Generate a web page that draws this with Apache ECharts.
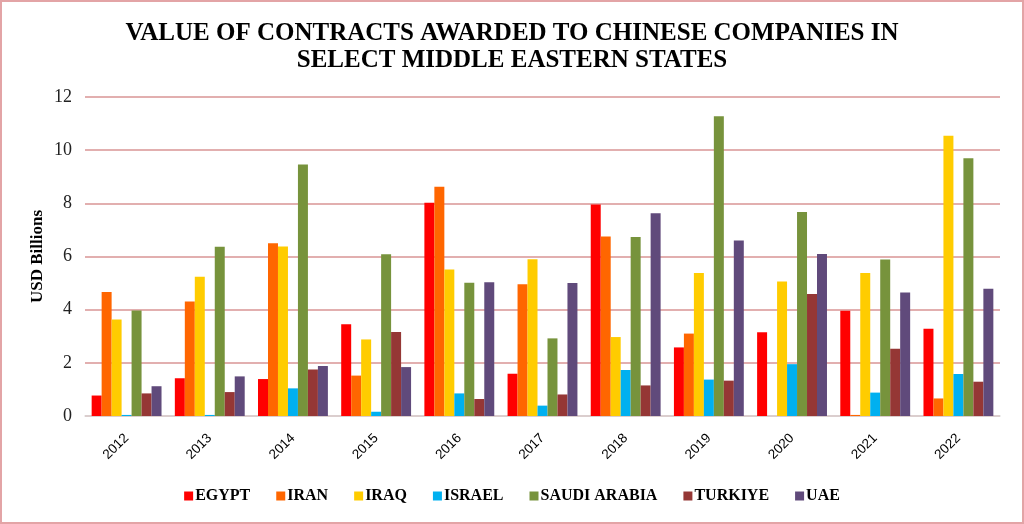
<!DOCTYPE html>
<html><head><meta charset="utf-8">
<script src="https://cdn.jsdelivr.net/npm/echarts@6/dist/echarts.min.js"></script>
<style>html,body{margin:0;padding:0;background:#fff}#c{width:1024px;height:524px}</style>
</head><body><div id="c"></div>
<script>
const years = ['2012','2013','2014','2015','2016','2017','2018','2019','2020','2021','2022'];
const egypt   = [0.77,1.42,1.39,3.45,8.02,1.59,7.96,2.58,3.15,3.96,3.28];
const iran    = [4.66,4.31,6.50,1.52,8.62,4.96,6.75,3.10,0.00,0.04,0.66];
const iraq    = [3.63,5.24,6.38,2.88,5.51,5.90,2.97,5.38,5.06,5.38,10.54];
const israel  = [0.04,0.04,1.04,0.16,0.85,0.39,1.73,1.37,1.95,0.88,1.58];
const saudi   = [3.97,6.37,9.46,6.08,5.01,2.92,6.73,11.28,7.67,5.89,9.70];
const turkiye = [0.85,0.90,1.75,3.16,0.64,0.81,1.15,1.33,4.59,2.53,1.29];
const uae     = [1.12,1.49,1.88,1.84,5.03,5.00,7.63,6.60,6.09,4.65,4.79];
const yTicks = [0,2,4,6,8,10,12];

const seriesDefs = [
  ['EGYPT', egypt, '#FF0000'],
  ['IRAN', iran, '#FF6600'],
  ['IRAQ', iraq, '#FFCC00'],
  ['ISRAEL', israel, '#00B0F0'],
  ['SAUDI ARABIA', saudi, '#77933C'],
  ['TURKIYE', turkiye, '#953735'],
  ['UAE', uae, '#604A7B']
];
const chart = echarts.init(document.getElementById('c'), null, {renderer:'canvas'});
chart.setOption({
  animation:false,
  graphic:[{type:'rect', shape:{x:1, y:1, width:1022, height:522}, style:{fill:null, stroke:'#e3a4a6', lineWidth:2}, silent:true, z:-1}],
  title:{
    text:'VALUE OF CONTRACTS AWARDED TO CHINESE COMPANIES IN\nSELECT MIDDLE EASTERN STATES',
    left:'center', top:15,
    textStyle:{fontFamily:'Liberation Serif', fontWeight:'bold', fontSize:25, lineHeight:27, color:'#000'}
  },
  legend:{
    top:483, left:'center', itemWidth:9, itemHeight:9, itemGap:26, icon:'rect',
    textStyle:{fontFamily:'Liberation Serif', fontWeight:'bold', fontSize:16, color:'#000', padding:[0,0,0,-3]},
    data: seriesDefs.map(s=>s[0])
  },
  grid:{left:85, right:24, top:97, bottom:108},
  xAxis:{
    type:'category', data:years,
    axisLine:{lineStyle:{color:'#D9D9D9', width:1.5}},
    axisTick:{show:false},
    axisLabel:{rotate:45, fontFamily:'Liberation Sans', fontSize:13.5, color:'#000', margin:20}
  },
  yAxis:{
    type:'value', min:yTicks[0], max:yTicks[yTicks.length-1], interval:2,
    name:'USD Billions', nameLocation:'middle', nameGap:39, nameMoveOverlap:false,
    nameTextStyle:{fontFamily:'Liberation Serif', fontWeight:'bold', fontSize:17, color:'#000'},
    axisLine:{show:false}, axisTick:{show:false},
    axisLabel:{fontFamily:'Liberation Serif', fontSize:18, color:'#222', margin:13},
    splitLine:{lineStyle:{color:'#D99594', width:1.5}}
  },
  series: seriesDefs.map(s=>({
    name:s[0], type:'bar', data:s[1], barGap:'0%', barCategoryGap:'16%',
    itemStyle:{color:s[2]}
  }))
});
</script></body></html>
